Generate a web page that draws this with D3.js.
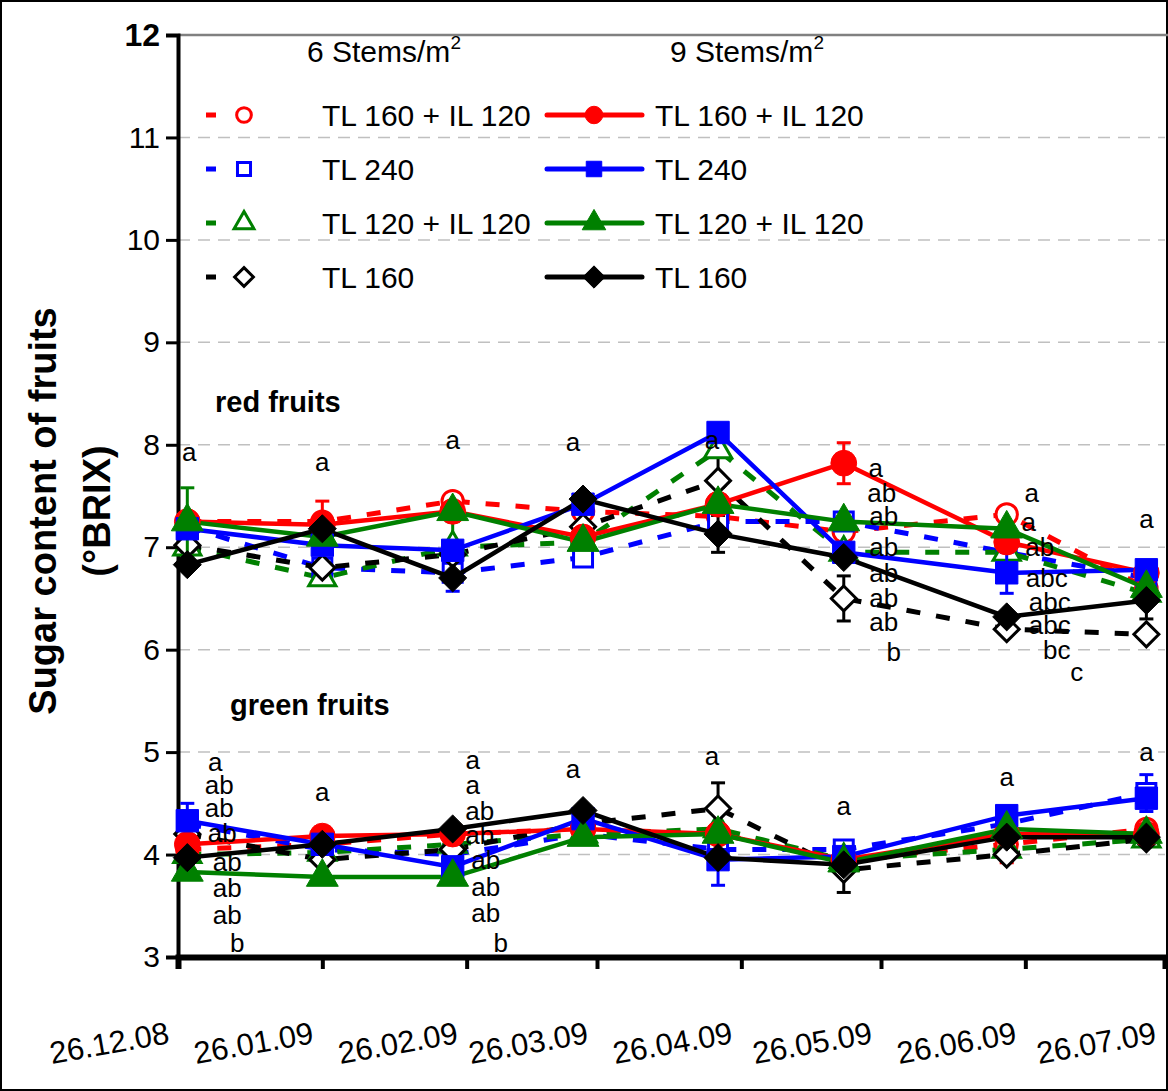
<!DOCTYPE html>
<html>
<head>
<script src="https://d3js.org/d3.v7.min.js"></script>
<style>
  html, body { margin: 0; background: #fff; }
  svg { display: block; font-family: "Liberation Sans", Arial, sans-serif; }
</style>
</head>
<body>
<script>
"use strict";

// Sampling dates and tick dates
const DATES = ["2008-12-28", "2009-01-26", "2009-02-23", "2009-03-23", "2009-04-21", "2009-05-18", "2009-06-22", "2009-07-22"];
const TICKS = ["2008-12-26", "2009-01-26", "2009-02-26", "2009-03-26", "2009-04-26", "2009-05-26", "2009-06-26", "2009-07-26"];
const TICK_LABELS = ["26.12.08", "26.01.09", "26.02.09", "26.03.09", "26.04.09", "26.05.09", "26.06.09", "26.07.09"];
const Y_TICKS = [3, 4, 5, 6, 7, 8, 9, 10, 11, 12];

const TREATMENTS = ["TL 160 + IL 120", "TL 240", "TL 120 + IL 120", "TL 160"];
const COLORS = ["#ff0000", "#0000ff", "#008000", "#000000"];
const SHAPES = ["circle", "square", "triangle", "diamond"];

// red fruits, 6 stems (dashed, open) and 9 stems (solid, filled)
const RED6 = [
  [7.25, 7.25, 7.45, 7.35, 7.3, 7.15, 7.32, 6.6],
  [7.2, 6.8, 6.75, 6.9, 7.25, 7.25, 6.95, 6.7],
  [7.0, 6.7, 7.0, 7.05, 7.95, 6.95, 6.95, 6.55],
  [7.02, 6.8, 6.93, 7.2, 7.65, 6.5, 6.2, 6.15]
];
const RED9 = [
  [7.25, 7.22, 7.35, 7.1, 7.42, 7.82, 7.05, 6.75],
  [7.18, 7.02, 6.97, 7.42, 8.12, 6.95, 6.75, 6.78],
  [7.25, 7.1, 7.35, 7.05, 7.42, 7.25, 7.18, 6.6],
  [6.83, 7.18, 6.7, 7.47, 7.13, 6.9, 6.32, 6.48]
];
// green fruits
const GREEN6 = [
  [4.05, 4.1, 4.2, 4.25, 4.2, 3.95, 4.1, 4.25],
  [4.3, 4.05, 4.0, 4.2, 4.05, 4.05, 4.3, 4.6],
  [4.0, 4.02, 4.1, 4.2, 4.25, 3.95, 4.05, 4.15],
  [4.2, 3.95, 4.05, 4.3, 4.45, 3.85, 4.0, 4.15]
];
const GREEN9 = [
  [4.1, 4.18, 4.2, 4.25, 4.2, 3.95, 4.2, 4.2],
  [4.33, 4.1, 3.88, 4.35, 3.95, 3.98, 4.38, 4.55],
  [3.83, 3.78, 3.78, 4.17, 4.2, 3.92, 4.25, 4.2],
  [3.97, 4.1, 4.25, 4.43, 3.97, 3.9, 4.17, 4.17]
];
// a few visible error bars: [series set, treatment, date index, half-width]
const ERRORS = [
  ["RED9", 0, 5, 0.2], ["RED9", 2, 0, 0.33], ["RED9", 3, 4, 0.18], ["RED9", 1, 6, 0.2],
  ["RED9", 3, 7, 0.18], ["RED6", 0, 1, 0.2], ["RED6", 2, 2, 0.25], ["RED6", 3, 5, 0.22],
  ["RED6", 3, 4, 0.25], ["RED6", 1, 2, 0.18], ["GREEN6", 3, 4, 0.25], ["GREEN6", 3, 5, 0.22],
  ["GREEN6", 1, 4, 0.35], ["GREEN6", 1, 7, 0.18], ["GREEN6", 0, 6, 0.18], ["GREEN6", 1, 0, 0.2]
];

// significance letters: [date index, value position, letter, pixel x offset]
const LETTERS = [
  [0, 7.93, "a", 2], [1, 7.83, "a", 0], [2, 8.05, "a", 0], [3, 8.03, "a", -10], [4, 8.05, "a", -6], [7, 7.28, "a", 0],
  [5, 7.77, "a", 32], [5, 7.53, "ab", 38], [5, 7.3, "ab", 40], [5, 7.0, "ab", 40], [5, 6.75, "ab", 40], [5, 6.5, "ab", 40], [5, 6.27, "ab", 40], [5, 5.98, "b", 50],
  [6, 7.53, "a", 25], [6, 7.25, "a", 22], [6, 7.0, "ab", 33], [6, 6.7, "abc", 40], [6, 6.47, "abc", 43], [6, 6.24, "abc", 43], [6, 6.0, "bc", 50], [6, 5.78, "c", 70],
  [0, 4.9, "a", 28], [0, 4.68, "ab", 32], [0, 4.45, "ab", 32], [0, 4.21, "ab", 35], [0, 3.93, "ab", 40], [0, 3.67, "ab", 40], [0, 3.41, "ab", 40], [0, 3.14, "b", 50],
  [2, 4.92, "a", 20], [2, 4.68, "a", 20], [2, 4.43, "ab", 27], [2, 4.19, "ab", 27], [2, 3.95, "ab", 33], [2, 3.68, "ab", 33], [2, 3.43, "ab", 33], [2, 3.14, "b", 48],
  [1, 4.61, "a", 0], [3, 4.84, "a", -10], [4, 4.96, "a", -6], [5, 4.47, "a", 0], [6, 4.76, "a", 0], [7, 5.0, "a", 0]
];

const W = 1168, H = 1091;
const L = 178, R = 1165, T = 35, B = 957;
const parse = d3.utcParse("%Y-%m-%d");

const svg = d3.select("body").append("svg").attr("width", W).attr("height", H);
svg.append("rect").attr("x", 1).attr("y", 1).attr("width", W - 2).attr("height", H - 2)
  .attr("fill", "#fff").attr("stroke", "#000").attr("stroke-width", 2);

const x = d3.scaleUtc().domain([parse(TICKS[0]), parse(TICKS[TICKS.length - 1])]).range([L, R]);
const y = d3.scaleLinear().domain([3, 12]).range([B, T]);

// grid
svg.append("g").selectAll("line").data(Y_TICKS.filter(v => v > 3 && v < 12)).join("line")
  .attr("x1", L).attr("x2", R).attr("y1", d => y(d)).attr("y2", d => y(d))
  .attr("stroke", "#c0c0c0").attr("stroke-width", 1.5).attr("stroke-dasharray", "12,8");
svg.append("line").attr("x1", L).attr("x2", W).attr("y1", y(12)).attr("y2", y(12))
  .attr("stroke", "#808080").attr("stroke-width", 2.5);

// y axis
const yAxis = svg.append("g").attr("transform", `translate(${L},0)`)
  .call(d3.axisLeft(y).tickValues(Y_TICKS).tickSize(12).tickPadding(6).tickFormat(d3.format("d")));
yAxis.select(".domain").attr("stroke-width", 4);
yAxis.selectAll(".tick line").attr("stroke-width", 3);
yAxis.selectAll("text").attr("font-size", 30).attr("fill", "#000");
yAxis.selectAll(".tick").filter(d => d === 12).select("text").attr("font-weight", "bold").attr("font-size", 32);

// x axis
const xAxis = svg.append("g").attr("transform", `translate(0,${B})`)
  .call(d3.axisBottom(x).tickValues(TICKS.map(parse)).tickSize(12).tickFormat((d, i) => TICK_LABELS[i]));
xAxis.select(".domain").attr("stroke-width", 6);
xAxis.selectAll(".tick line").attr("stroke-width", 4);
xAxis.selectAll("text").attr("font-size", 31).attr("fill", "#000")
  .attr("text-anchor", "end").attr("dy", 0).attr("y", 0)
  .attr("transform", "translate(-8,86) rotate(-10)");

// y title
svg.append("text").attr("transform", `translate(56,${(T + B) / 2 + 15}) rotate(-90)`)
  .attr("text-anchor", "middle").attr("font-size", 38).attr("font-weight", "bold").text("Sugar content of fruits");
svg.append("text").attr("transform", `translate(110,${(T + B) / 2 + 15}) rotate(-90)`)
  .attr("text-anchor", "middle").attr("font-size", 38).attr("font-weight", "bold").text("(°BRIX)");

svg.append("text").attr("x", 215).attr("y", 412).attr("font-size", 29).attr("font-weight", "bold").text("red fruits");
svg.append("text").attr("x", 230).attr("y", 715).attr("font-size", 29).attr("font-weight", "bold").text("green fruits");

const SYM = { circle: d3.symbolCircle, square: d3.symbolSquare, triangle: d3.symbolTriangle };
const SIZE6 = { circle: 360, square: 360, triangle: 320, diamond: 300 };
const SIZE9 = { circle: 520, square: 500, triangle: 440, diamond: 380 };

function marker(g, shape, color, filled, size, cx, cy) {
  let d;
  if (shape === "diamond") {
    const r = Math.sqrt(size) * 0.72;
    d = `M0,${-r}L${r},0L0,${r}L${-r},0Z`;
  } else {
    d = d3.symbol(SYM[shape], size)();
  }
  g.append("path").attr("d", d)
    .attr("transform", `translate(${cx},${cy})`)
    .attr("fill", filled ? color : "#fff")
    .attr("stroke", color)
    .attr("stroke-width", filled ? 1 : 3);
}

const line = d3.line().x((d, i) => x(parse(DATES[i]))).y(d => y(d));
const SETS = { RED6, RED9, GREEN6, GREEN9 };

function errorBars(setName) {
  ERRORS.filter(e => e[0] === setName).forEach(e => {
    const v = SETS[setName][e[1]][e[2]], cx = x(parse(DATES[e[2]]));
    const g = svg.append("g").attr("stroke", COLORS[e[1]]).attr("stroke-width", 3);
    g.append("line").attr("x1", cx).attr("x2", cx).attr("y1", y(v - e[3])).attr("y2", y(v + e[3]));
    [v - e[3], v + e[3]].forEach(t => g.append("line").attr("x1", cx - 7).attr("x2", cx + 7).attr("y1", y(t)).attr("y2", y(t)));
  });
}

function drawSet(setName, dashed) {
  const data = SETS[setName];
  errorBars(setName);
  data.forEach((vals, k) => {
    svg.append("path").datum(vals).attr("d", line).attr("fill", "none")
      .attr("stroke", COLORS[k]).attr("stroke-width", dashed ? 5 : 4.5)
      .attr("stroke-dasharray", dashed ? "14,16" : null);
  });
  data.forEach((vals, k) => {
    const g = svg.append("g");
    vals.forEach((v, i) => marker(g, SHAPES[k], COLORS[k], !dashed, dashed ? SIZE6[SHAPES[k]] : SIZE9[SHAPES[k]], x(parse(DATES[i])), y(v)));
  });
}

drawSet("GREEN6", true);
drawSet("GREEN9", false);
drawSet("RED6", true);
drawSet("RED9", false);

// letters
svg.append("g").selectAll("text").data(LETTERS).join("text")
  .attr("x", d => x(parse(DATES[d[0]])) + d[3]).attr("y", d => y(d[1]) + 9)
  .attr("text-anchor", "middle").attr("font-size", 26).text(d => d[2]);

// legend
const leg = svg.append("g");
[["6 Stems/m", 307], ["9 Stems/m", 670]].forEach(h => {
  const t = leg.append("text").attr("x", h[1]).attr("y", 62).attr("font-size", 30).text(h[0]);
  t.append("tspan").attr("dy", -13).attr("font-size", 19).text("2");
});
TREATMENTS.forEach((name, k) => {
  const cy = 115 + k * 54;
  leg.append("line").attr("x1", 206).attr("x2", 274).attr("y1", cy).attr("y2", cy)
    .attr("stroke", COLORS[k]).attr("stroke-width", 5).attr("stroke-dasharray", "10,26");
  leg.append("rect").attr("x", 228).attr("y", cy - 14).attr("width", 24).attr("height", 28).attr("fill", "#fff");
  marker(leg, SHAPES[k], COLORS[k], false, 170, 244, cy);
  leg.append("text").attr("x", 322).attr("y", cy + 11).attr("font-size", 30).text(name);
  leg.append("line").attr("x1", 547).attr("x2", 642).attr("y1", cy).attr("y2", cy)
    .attr("stroke", COLORS[k]).attr("stroke-width", 5).attr("stroke-linecap", "round");
  marker(leg, SHAPES[k], COLORS[k], true, 240, 594, cy);
  leg.append("text").attr("x", 655).attr("y", cy + 11).attr("font-size", 30).text(name);
});
</script>
</body>
</html>
